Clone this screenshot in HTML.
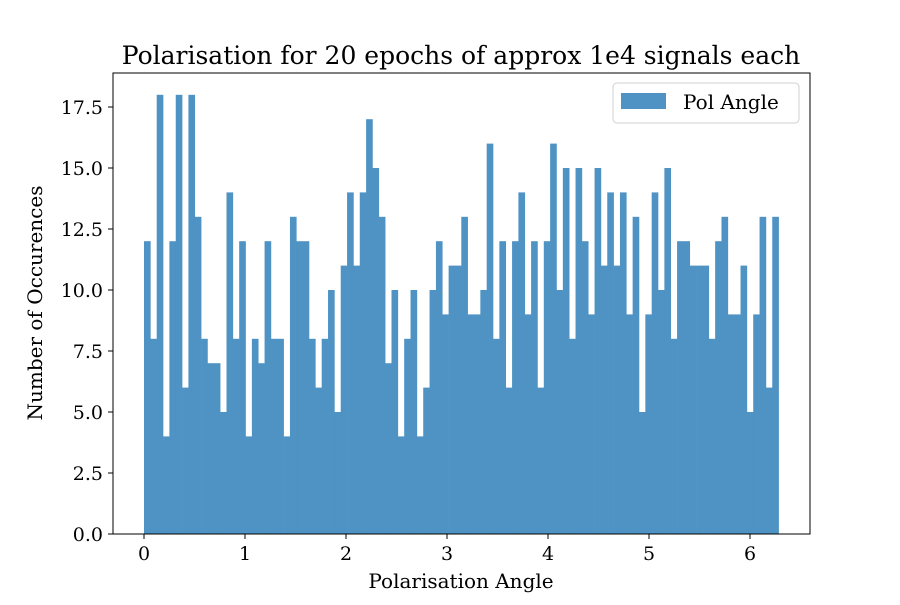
<!DOCTYPE html>
<html><head><meta charset="utf-8"><style>
body{margin:0;background:#fff}
svg text{font-family:"DejaVu Serif","Liberation Serif",serif;fill:#000}
</style></head><body>
<svg width="900" height="600" xmlns="http://www.w3.org/2000/svg">
<g id="bars"></g>
<rect x="113" y="73" width="697" height="461" fill="none" stroke="#000" stroke-width="1"/>
<g id="xt"></g>
<g id="yt"></g>
<text x="461" y="64" font-size="25" text-anchor="middle">Polarisation for 20 epochs of approx 1e4 signals each</text>
<text x="461" y="588" font-size="20" text-anchor="middle">Polarisation Angle</text>
<text transform="translate(42,303) rotate(-90)" font-size="20" text-anchor="middle">Number of Occurences</text>
<g>
<rect x="613" y="83" width="186" height="40" rx="4" fill="#fff" stroke="#d0d0d0"/>
<rect x="621" y="93" width="45" height="16" fill="#4e93c3"/>
<text x="683" y="109" font-size="20">Pol Angle</text>
</g>
</svg>
<script>
const counts=[12,8,18,4,12,18,6,18,13,8,7,7,5,14,8,12,4,8,7,12,8,8,4,13,12,12,8,6,8,10,5,11,14,11,14,17,15,13,7,10,4,8,10,4,6,10,12,9,11,11,13,9,9,10,16,8,12,6,12,14,9,12,6,12,16,10,15,8,15,12,9,15,11,14,11,14,9,13,5,9,14,10,15,8,12,12,11,11,11,8,12,13,9,9,11,5,9,13,6,13];
const xTicks=[0,1,2,3,4,5,6];
const yTicks=[0,2.5,5,7.5,10,12.5,15,17.5];
const xMin=0,xMax=2*Math.PI;
const NS="http://www.w3.org/2000/svg";
function xs(v){return 144+v*101;}
function ys(v){return 534-v*24.4;}
const bars=document.getElementById('bars');
const bw=(xMax-xMin)/counts.length;
counts.forEach((c,i)=>{
 const r=document.createElementNS(NS,'rect');
 const x0=xs(xMin+i*bw),x1=xs(xMin+(i+1)*bw);
 r.setAttribute('x',x0);r.setAttribute('width',x1-x0+0.3);
 r.setAttribute('y',ys(c));r.setAttribute('height',ys(0)-ys(c));
 r.setAttribute('fill','#4e93c3');
 
 
 bars.appendChild(r);
});
const xt=document.getElementById('xt');
xTicks.forEach(t=>{
 const l=document.createElementNS(NS,'line');
 l.setAttribute('x1',xs(t));l.setAttribute('x2',xs(t));l.setAttribute('y1',534);l.setAttribute('y2',539);l.setAttribute('stroke','#000');
 
 
 xt.appendChild(l);
 const tx=document.createElementNS(NS,'text');
 tx.setAttribute('x',xs(t));tx.setAttribute('y',560);tx.setAttribute('font-size','19');tx.setAttribute('text-anchor','middle');
 tx.textContent=t;
 
 
 xt.appendChild(tx);
});
const yt=document.getElementById('yt');
yTicks.forEach(t=>{
 const l=document.createElementNS(NS,'line');
 l.setAttribute('x1',108);l.setAttribute('x2',113);l.setAttribute('y1',ys(t));l.setAttribute('y2',ys(t));l.setAttribute('stroke','#000');
 
 
 yt.appendChild(l);
 const tx=document.createElementNS(NS,'text');
 tx.setAttribute('x',103);tx.setAttribute('y',ys(t)+7);tx.setAttribute('font-size','19');tx.setAttribute('text-anchor','end');
 tx.textContent=t.toFixed(1);
 
 
 yt.appendChild(tx);
});
</script>
</body></html>
